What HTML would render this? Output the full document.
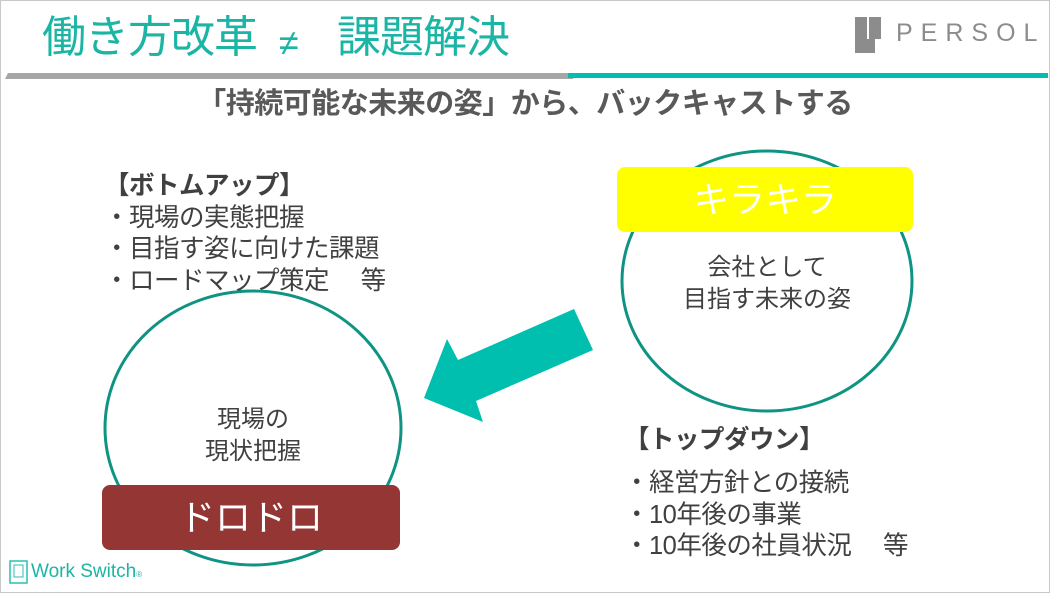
<!DOCTYPE html>
<html><head><meta charset="utf-8"><style>
html,body{margin:0;padding:0;background:#fff}
body{width:1050px;height:593px;position:relative;overflow:hidden;font-family:"Liberation Sans","Noto Sans CJK JP",sans-serif}
.frame{position:absolute;left:0;top:0;width:1048px;height:591px;border:1px solid #c8c8c8}
.t{position:absolute;white-space:nowrap}
.list{font-size:25.5px;color:#404040;line-height:31.5px;letter-spacing:-0.5px}
.ti{position:absolute;top:10px;font-size:44px;color:#1bb5a5;line-height:56px;letter-spacing:-1px;white-space:nowrap}
</style></head><body>
<div class="frame"></div>
<div class="ti" style="left:42px">働き方改革</div>
<div class="ti" style="left:279px;font-size:36px;top:15px">≠</div>
<div class="ti" style="left:337px">課題解決</div>
<svg style="position:absolute;left:0;top:0" width="1050" height="593">
  <polygon points="8,73 568,73 574,79 5,79" fill="#a6a6a6"/>
  <rect x="568" y="73" width="480" height="5" fill="#00bfae"/>
  <rect x="855" y="17" width="12" height="36" fill="#8c8c8c"/>
  <rect x="869" y="17" width="12" height="22" fill="#8c8c8c"/>
  <rect x="867" y="39" width="8" height="14" fill="#8c8c8c"/>
  <ellipse cx="253" cy="428" rx="148" ry="137" fill="none" stroke="#0f9484" stroke-width="3"/>
  <ellipse cx="767" cy="281" rx="145" ry="130" fill="none" stroke="#0f9484" stroke-width="3"/>
  <rect x="617" y="167" width="296" height="65" rx="8" fill="#ffff00"/>
  <rect x="102" y="485" width="298" height="65" rx="8" fill="#943634"/>
  <polygon points="574,309 593,350 476,401 483,422 424,398 447,339 458,360" fill="#00bfae"/>
  <rect x="10" y="561" width="17" height="22" fill="none" stroke="#2abfb0" stroke-width="1.5"/>
  <rect x="14" y="565" width="9" height="12" fill="none" stroke="#2abfb0" stroke-width="1"/>
</svg>
<div class="t" style="left:896px;top:17px;font-size:25px;color:#8c8c8c;letter-spacing:8px;line-height:32px">PERSOL</div>
<div class="t" style="left:0;width:1050px;text-align:center;top:84px;font-size:29px;font-weight:bold;color:#595959;line-height:40px;letter-spacing:-0.5px">「持続可能な未来の姿」から、バックキャストする</div>
<div class="t list" style="left:104px;top:171px"><b>【ボトムアップ】</b><br>・現場の実態把握<br>・目指す姿に向けた課題<br>・ロードマップ策定　 等</div>
<div class="t list" style="left:624px;top:425px"><b>【トップダウン】</b></div>
<div class="t list" style="left:624px;top:468px">・経営方針との接続<br>・10年後の事業<br>・10年後の社員状況　 等</div>
<div class="t" style="left:617px;width:296px;text-align:center;top:176px;font-size:36px;color:#fff;line-height:48px">キラキラ</div>
<div class="t" style="left:102px;width:298px;text-align:center;top:494px;font-size:36px;color:#fff;line-height:48px">ドロドロ</div>
<div class="t" style="left:617px;width:300px;text-align:center;top:252px;font-size:24px;color:#404040;line-height:32px">会社として<br>目指す未来の姿</div>
<div class="t" style="left:103px;width:300px;text-align:center;top:404px;font-size:24px;color:#404040;line-height:32px">現場の<br>現状把握</div>
<div class="t" style="left:31px;top:560px;font-size:19px;color:#1bb5a5;line-height:24px">Work Switch<span style="font-size:8px">®</span></div>
</body></html>
